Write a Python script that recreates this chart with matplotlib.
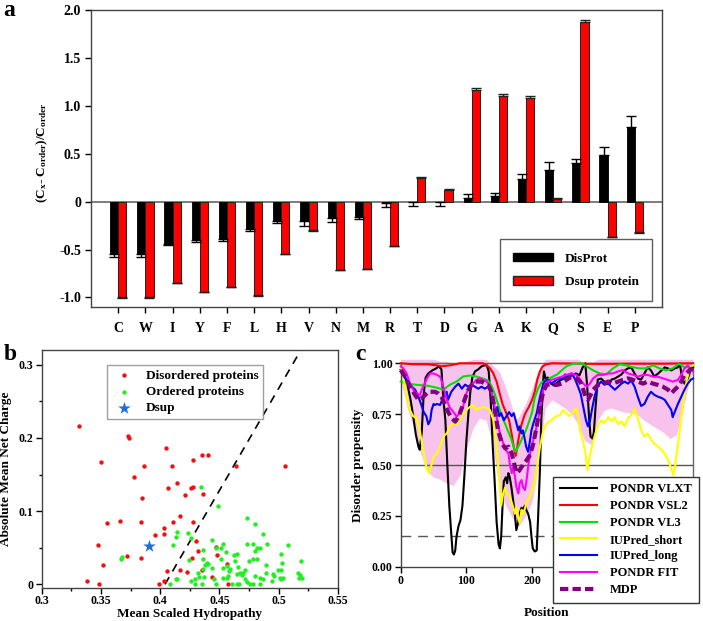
import numpy as np
import matplotlib
matplotlib.use("Agg")
import matplotlib.pyplot as plt
from matplotlib.patches import Patch

plt.rcParams["font.family"] = ["Liberation Serif", "DejaVu Serif"]
plt.rcParams["font.weight"] = "bold"
plt.rcParams["mathtext.fontset"] = "custom"
plt.rcParams["mathtext.rm"] = "Liberation Serif:bold"
plt.rcParams["mathtext.it"] = "Liberation Serif:bold"
plt.rcParams["mathtext.default"] = "rm"

# -----------------------------
# Panel a data
# -----------------------------
amino_acids = ["C", "W", "I", "Y", "F", "L", "H", "V", "N", "M",
               "R", "T", "D", "G", "A", "K", "Q", "S", "E", "P"]
disprot_vals = [-0.55, -0.545, -0.44, -0.40, -0.39, -0.29, -0.20, -0.20, -0.17, -0.16,
                -0.017, -0.008, -0.004, 0.035, 0.055, 0.235, 0.335, 0.40, 0.49, 0.775]
disprot_err = [0.03, 0.03, 0.01, 0.02, 0.02, 0.02, 0.02, 0.05, 0.04, 0.02,
               0.04, 0.035, 0.04, 0.045, 0.03, 0.055, 0.075, 0.05, 0.075, 0.115]
dsup_vals = [-1.0, -1.0, -0.845, -0.94, -0.89, -0.975, -0.545, -0.30, -0.71, -0.70,
             -0.46, 0.245, 0.125, 1.165, 1.105, 1.085, 0.025, 1.875, -0.365, -0.32]
dsup_err = [0.005, 0.005, 0.005, 0.005, 0.005, 0.005, 0.005, 0.005, 0.005, 0.005,
            0.005, 0.01, 0.008, 0.02, 0.015, 0.02, 0.01, 0.025, 0.005, 0.005]

# -----------------------------
# Panel b data
# -----------------------------
dis_h = [0.3318, 0.350, 0.3731, 0.374, 0.3863, 0.3776, 0.3843, 0.3661, 0.3548, 0.384,
         0.3475, 0.3717, 0.384, 0.352, 0.338, 0.3487, 0.405, 0.410, 0.428, 0.435,
         0.440, 0.464, 0.505, 0.4144, 0.4065, 0.4256, 0.4279, 0.4211, 0.4357, 0.4166,
         0.411, 0.4279, 0.4034, 0.4034, 0.3953, 0.4301, 0.4265, 0.4321, 0.4475, 0.447,
         0.456, 0.4349, 0.4166, 0.4222, 0.406, 0.4433, 0.4034, 0.3992, 0.4574]
dis_r = [0.216, 0.167, 0.203, 0.200, 0.161, 0.147, 0.118, 0.087, 0.084, 0.085,
         0.054, 0.039, 0.0355, 0.027, 0.005, 0.0, 0.186, 0.162, 0.170, 0.177,
         0.176, 0.161, 0.161, 0.1387, 0.131, 0.1314, 0.1328, 0.122, 0.1228, 0.0932,
         0.0855, 0.0855, 0.0769, 0.0682, 0.0669, 0.0587, 0.0364, 0.045, 0.0396, 0.0514,
         0.0273, 0.0196, 0.0196, 0.0173, 0.0187, 0.0105, 0.0046, 0.0, 0.0]

ord_h = [0.4343, 0.4484, 0.4734, 0.4799, 0.4863, 0.4141, 0.4231, 0.413, 0.411, 0.4256,
         0.4439, 0.4532, 0.447, 0.4512, 0.4734, 0.4779, 0.4905, 0.508, 0.4818, 0.4841,
         0.4799, 0.4363, 0.4554, 0.4624, 0.4644, 0.4751, 0.4779, 0.4813, 0.5015, 0.4245,
         0.4357, 0.4391, 0.4405, 0.4377, 0.4512, 0.4630, 0.4891, 0.5029, 0.5189, 0.4363,
         0.4433, 0.4526, 0.4565, 0.4593, 0.466, 0.4717, 0.4672, 0.4644, 0.4686, 0.4582,
         0.4315, 0.4369, 0.4329, 0.4293, 0.4256, 0.4138, 0.4085, 0.4293, 0.4355, 0.4456,
         0.447, 0.4526, 0.456, 0.4574, 0.4602, 0.4644, 0.4664, 0.4714, 0.4734, 0.4757,
         0.4784, 0.4799, 0.4841, 0.4863, 0.4846, 0.4939, 0.4953, 0.4959, 0.4995, 0.5018,
         0.5009, 0.5037, 0.5023, 0.5164, 0.5178, 0.5172, 0.52, 0.4889, 0.47, 0.3669,
         0.368, 0.413]
ord_r = [0.1328, 0.1069, 0.0901, 0.0828, 0.0691, 0.0714, 0.0705, 0.0646, 0.0537, 0.0628,
         0.0605, 0.0555, 0.0500, 0.0491, 0.0546, 0.0546, 0.0546, 0.0532, 0.0491, 0.0491,
         0.0455, 0.0464, 0.0441, 0.0396, 0.0410, 0.0318, 0.0350, 0.0350, 0.0419, 0.0332,
         0.0350, 0.0296, 0.0282, 0.0260, 0.0350, 0.0319, 0.0260, 0.0287, 0.0314, 0.0205,
         0.0228, 0.0228, 0.0250, 0.0205, 0.0241, 0.0196, 0.0159, 0.0137, 0.0123, 0.0182,
         0.0159, 0.0105, 0.0105, 0.0068, 0.0041, 0.0068, 0.0, 0.0, 0.0, 0.0068,
         0.0, 0.0087, 0.0091, 0.0114, 0.0, 0.0, 0.0, 0.0078, 0.0032, 0.0,
         0.0, 0.0114, 0.0091, 0.0068, 0.0, 0.0046, 0.0137, 0.0114, 0.0196, 0.0196,
         0.0091, 0.0091, 0.0068, 0.0159, 0.0123, 0.0091, 0.0091, 0.0159, 0.0159, 0.034,
         0.0377, 0.007]

dsup_h = [0.3907]
dsup_r = [0.052]

boundary_h = [0.404, 0.5205]
boundary_r = [0.0, 0.325]

# -----------------------------
# Panel c data
# -----------------------------
vlxt_pos = [0, 5, 10, 15, 19, 23, 27, 29, 32, 35, 38, 42, 48, 54, 58, 62, 65, 68, 71, 74,
            77, 79, 81, 83, 85, 88, 91, 94, 97, 100, 103, 106, 109, 113, 118, 123, 128, 131, 134, 137,
            140, 143, 146, 149, 151, 153, 155, 157, 160, 162, 164, 166, 169, 171, 174, 176, 179, 181, 184, 186,
            189, 191, 194, 197, 199, 201, 204, 207, 209, 212, 214, 217, 218, 221, 224, 229, 234, 240, 245, 250,
            255, 262, 267, 272, 277, 281, 284, 287, 289, 292, 294, 297, 300, 305, 310, 316, 321, 326, 331, 336,
            341, 346, 351, 356, 361, 366, 371, 376, 381, 386, 392, 397, 402, 407, 412, 417, 422, 425, 428, 432,
            437, 442, 445]
vlxt_val = [0.97, 0.95, 0.90, 0.82, 0.74, 0.65, 0.59, 0.575, 0.66, 0.85, 0.93, 0.95, 0.965, 0.975, 0.985, 0.97, 0.82, 0.72, 0.50, 0.30,
            0.16, 0.07, 0.06, 0.08, 0.15, 0.20, 0.23, 0.30, 0.45, 0.62, 0.75, 0.86, 0.93, 0.96, 0.97, 0.985, 0.99, 0.99, 0.96, 0.82,
            0.60, 0.42, 0.22, 0.11, 0.09, 0.15, 0.30, 0.42, 0.44, 0.41, 0.46, 0.44, 0.38, 0.33, 0.25, 0.18, 0.22, 0.26, 0.29, 0.28,
            0.30, 0.28, 0.26, 0.22, 0.15, 0.09, 0.075, 0.08, 0.23, 0.48, 0.72, 0.92, 0.96, 0.92, 0.93, 0.90, 0.89, 0.91, 0.92, 0.93,
            0.935, 0.945, 0.95, 0.94, 0.98, 1.0, 0.88, 0.72, 0.64, 0.63, 0.66, 0.80, 0.92, 0.925, 0.91, 0.90, 0.92, 0.925, 0.935, 0.945,
            0.965, 0.975, 0.98, 0.95, 0.925, 0.92, 0.95, 0.98, 0.965, 0.935, 0.95, 0.965, 0.98, 0.975, 0.965, 0.975, 0.98, 1.0, 0.93, 0.90,
            0.925, 0.975, 0.98]

vsl2_pos = [0, 20, 40, 55, 62, 75, 90, 125, 131, 136, 141, 146, 150, 155, 160, 165, 169, 172, 175, 177,
            180, 184, 189, 195, 200, 204, 208, 212, 216, 222, 230, 300, 350, 400, 445]
vsl2_val = [1.0, 0.995, 0.995, 0.99, 0.985, 0.99, 1.0, 1.0, 0.99, 0.975, 0.95, 0.91, 0.86, 0.80, 0.76, 0.72, 0.65, 0.59, 0.545, 0.58,
            0.64, 0.70, 0.75, 0.785, 0.82, 0.86, 0.92, 0.96, 0.985, 0.995, 1.0, 0.997, 0.998, 0.998, 1.0]

vl3_pos = [0, 10, 22, 40, 55, 65, 75, 85, 95, 105, 115, 125, 133, 138, 143, 148, 153, 158, 163, 168,
           172, 175, 178, 182, 186, 190, 195, 200, 204, 209, 214, 222, 230, 238, 245, 252, 262, 275, 283, 293,
           303, 313, 323, 333, 343, 354, 364, 374, 384, 394, 404, 414, 424, 432, 440, 445]
vl3_val = [0.91, 0.90, 0.895, 0.89, 0.88, 0.87, 0.895, 0.91, 0.935, 0.94, 0.935, 0.925, 0.915, 0.89, 0.85, 0.80, 0.75, 0.71, 0.67, 0.63,
           0.59, 0.565, 0.585, 0.61, 0.64, 0.665, 0.71, 0.76, 0.83, 0.875, 0.905, 0.918, 0.932, 0.945, 0.965, 0.985, 0.997, 1.0, 0.985, 0.965,
           0.95, 0.945, 0.975, 0.995, 0.99, 0.98, 0.975, 0.975, 0.99, 0.975, 0.965, 0.975, 0.998, 0.98, 0.98, 0.99]

ius_pos = [0, 4, 9, 14, 19, 24, 29, 34, 39, 43, 46, 50, 55, 60, 65, 70, 75, 80, 85, 90,
           95, 100, 105, 110, 115, 120, 126, 131, 136, 141, 146, 151, 153, 156, 159, 161, 166, 171, 174, 176,
           179, 181, 184, 186, 189, 191, 194, 197, 202, 207, 212, 217, 222, 229, 237, 242, 247, 252, 257, 262,
           267, 270, 273, 278, 282, 284, 287, 290, 295, 300, 305, 310, 316, 321, 326, 331, 336, 341, 346, 351,
           356, 361, 366, 371, 376, 381, 386, 392, 397, 402, 407, 412, 415, 418, 420, 424, 429, 435, 440, 445]
ius_val = [0.985, 0.93, 0.84, 0.77, 0.74, 0.73, 0.67, 0.575, 0.49, 0.46, 0.49, 0.54, 0.555, 0.59, 0.64, 0.655, 0.69, 0.705, 0.70, 0.72,
           0.75, 0.77, 0.785, 0.795, 0.77, 0.78, 0.785, 0.78, 0.77, 0.72, 0.59, 0.39, 0.30, 0.36, 0.39, 0.36, 0.345, 0.295, 0.26, 0.295,
           0.245, 0.215, 0.28, 0.26, 0.285, 0.31, 0.33, 0.345, 0.39, 0.475, 0.59, 0.67, 0.705, 0.72, 0.74, 0.745, 0.77, 0.755, 0.74, 0.755,
           0.78, 0.74, 0.67, 0.61, 0.54, 0.475, 0.525, 0.575, 0.64, 0.69, 0.72, 0.705, 0.735, 0.715, 0.735, 0.70, 0.715, 0.69, 0.73, 0.745,
           0.775, 0.73, 0.67, 0.64, 0.655, 0.625, 0.605, 0.59, 0.575, 0.555, 0.525, 0.48, 0.45, 0.50, 0.555, 0.65, 0.79, 0.91, 0.98, 0.99]

iul_pos = [0, 7, 12, 17, 22, 27, 32, 35, 39, 42, 45, 47, 50, 52, 55, 60, 65, 70, 72, 77,
           83, 88, 93, 98, 103, 108, 113, 118, 123, 128, 133, 137, 141, 143, 147, 150, 153, 157, 161, 165,
           169, 172, 175, 179, 181, 184, 186, 189, 191, 194, 197, 199, 202, 207, 212, 216, 219, 224, 229, 234,
           240, 245, 250, 255, 260, 265, 270, 274, 278, 282, 285, 288, 291, 295, 300, 305, 310, 316, 321, 326,
           331, 336, 341, 346, 351, 356, 361, 366, 371, 376, 381, 386, 392, 397, 402, 407, 412, 414, 417, 422,
           427, 432, 437, 442, 445]
iul_val = [0.96, 0.925, 0.91, 0.885, 0.87, 0.835, 0.79, 0.76, 0.74, 0.70, 0.72, 0.77, 0.80, 0.795, 0.80, 0.795, 0.835, 0.86, 0.82, 0.86,
           0.885, 0.90, 0.875, 0.895, 0.885, 0.895, 0.885, 0.875, 0.885, 0.875, 0.885, 0.87, 0.82, 0.755, 0.785, 0.74, 0.755, 0.72, 0.74, 0.76,
           0.74, 0.755, 0.72, 0.67, 0.69, 0.655, 0.67, 0.625, 0.59, 0.565, 0.625, 0.67, 0.705, 0.755, 0.835, 0.885, 0.91, 0.92, 0.90, 0.91,
           0.925, 0.92, 0.945, 0.935, 0.95, 0.925, 0.885, 0.85, 0.785, 0.72, 0.69, 0.715, 0.77, 0.835, 0.89, 0.91, 0.895, 0.90, 0.885, 0.87,
           0.885, 0.90, 0.91, 0.90, 0.915, 0.885, 0.835, 0.79, 0.80, 0.835, 0.86, 0.845, 0.835, 0.83, 0.82, 0.795, 0.77, 0.735, 0.76, 0.80,
           0.835, 0.87, 0.90, 0.92, 0.925]

fit_pos = [0, 4, 9, 14, 19, 24, 29, 34, 40, 45, 50, 55, 60, 65, 70, 75, 80, 85, 90, 95,
           100, 105, 110, 115, 120, 126, 131, 136, 141, 146, 151, 156, 160, 164, 166, 169, 171, 174, 176, 179,
           181, 184, 186, 189, 191, 194, 197, 199, 202, 207, 212, 216, 219, 224, 229, 237, 245, 252, 260, 267,
           272, 278, 283, 288, 293, 300, 308, 316, 323, 331, 338, 346, 354, 361, 369, 376, 384, 392, 399, 407,
           414, 422, 427, 432, 437, 442, 445]
fit_val = [0.985, 0.975, 0.95, 0.90, 0.87, 0.852, 0.844, 0.885, 0.926, 0.95, 0.95, 0.943, 0.934, 0.885, 0.82, 0.78, 0.762, 0.738, 0.754, 0.787,
           0.852, 0.885, 0.90, 0.918, 0.926, 0.918, 0.91, 0.885, 0.82, 0.738, 0.656, 0.607, 0.574, 0.557, 0.508, 0.46, 0.49, 0.443, 0.393, 0.36,
           0.41, 0.426, 0.393, 0.377, 0.41, 0.49, 0.557, 0.59, 0.623, 0.69, 0.77, 0.852, 0.893, 0.91, 0.918, 0.926, 0.934, 0.943, 0.95, 0.943,
           0.926, 0.90, 0.885, 0.90, 0.926, 0.943, 0.943, 0.95, 0.95, 0.96, 0.967, 0.95, 0.943, 0.934, 0.943, 0.943, 0.934, 0.934, 0.926, 0.918,
           0.91, 0.918, 0.943, 0.975, 0.99, 0.967, 0.96]

mdp_pos = [0, 7, 14, 22, 27, 32, 37, 42, 47, 52, 57, 62, 67, 72, 78, 83, 88, 93, 98, 103,
           108, 113, 118, 123, 128, 133, 138, 143, 148, 154, 159, 164, 169, 174, 177, 181, 186, 192, 197, 202,
           207, 212, 217, 222, 230, 237, 245, 252, 260, 267, 273, 278, 282, 285, 289, 293, 300, 308, 316, 323,
           331, 338, 346, 354, 361, 369, 376, 384, 392, 399, 407, 412, 417, 422, 427, 432, 440, 445]
mdp_val = [0.967, 0.934, 0.885, 0.844, 0.82, 0.828, 0.844, 0.86, 0.86, 0.86, 0.852, 0.836, 0.80, 0.762, 0.73, 0.713, 0.738, 0.78, 0.828, 0.87,
           0.893, 0.91, 0.91, 0.91, 0.90, 0.893, 0.86, 0.78, 0.672, 0.607, 0.582, 0.59, 0.557, 0.49, 0.46, 0.475, 0.50, 0.525, 0.55, 0.607,
           0.69, 0.787, 0.86, 0.893, 0.90, 0.893, 0.90, 0.918, 0.934, 0.926, 0.91, 0.87, 0.828, 0.82, 0.844, 0.87, 0.893, 0.90, 0.91, 0.90,
           0.91, 0.918, 0.926, 0.918, 0.91, 0.90, 0.91, 0.90, 0.893, 0.885, 0.87, 0.852, 0.87, 0.885, 0.91, 0.943, 0.967, 0.975]

band_pos = [0, 5, 10, 20, 30, 40, 50, 60, 70, 80, 90, 100, 110, 120, 130, 140, 150, 160, 170, 175,
            180, 190, 200, 210, 220, 230, 240, 250, 260, 270, 280, 290, 300, 310, 320, 330, 340, 350, 360, 370,
            380, 390, 400, 410, 420, 430, 440, 445]
band_hi = [1.02, 1.02, 1.02, 1.02, 1.02, 1.02, 1.02, 1.01, 1.01, 1.0, 1.0, 1.01, 1.02, 1.02, 1.02, 0.99, 0.96, 0.88, 0.78, 0.72,
           0.74, 0.80, 0.88, 0.97, 1.02, 1.02, 1.02, 1.02, 1.02, 1.02, 1.0, 1.0, 1.02, 1.02, 1.02, 1.02, 1.02, 1.02, 1.02, 1.02,
           1.02, 1.02, 1.02, 1.02, 1.02, 1.02, 1.02, 1.02]
band_lo = [0.92, 0.85, 0.78, 0.68, 0.56, 0.47, 0.44, 0.43, 0.41, 0.40, 0.45, 0.58, 0.68, 0.73, 0.72, 0.60, 0.38, 0.30, 0.24, 0.22,
           0.20, 0.25, 0.32, 0.50, 0.78, 0.82, 0.80, 0.78, 0.75, 0.70, 0.62, 0.60, 0.72, 0.77, 0.78, 0.77, 0.76, 0.755, 0.75, 0.72,
           0.70, 0.68, 0.66, 0.63, 0.65, 0.78, 0.92, 0.95]

# -----------------------------
# Figure
# -----------------------------
fig = plt.figure(figsize=(7.03, 6.21), dpi=100)
frame_col = "#444444"

# ---- panel a ----
ax_a = fig.add_axes([0.1294, 0.5056, 0.8123, 0.4783])
x = np.arange(len(amino_acids))
bw = 0.3
dp_v = np.array(disprot_vals)
dp_e = np.array(disprot_err)
ds_v = np.array(dsup_vals)
ds_e = np.array(dsup_err)
dp_yerr = [np.where(dp_v < 0, dp_e, 0), np.where(dp_v >= 0, dp_e, 0)]
ds_yerr = [np.where(ds_v < 0, ds_e, 0), np.where(ds_v >= 0, ds_e, 0)]

ax_a.bar(x - bw / 2, dp_v, bw, color="black", edgecolor="black", linewidth=0.6,
         yerr=dp_yerr, error_kw=dict(ecolor="black", elinewidth=1, capsize=3.5, capthick=1), zorder=3)
ax_a.bar(x + bw / 2, ds_v, bw, color="#ff0000", edgecolor="#222222", linewidth=0.7,
         yerr=ds_yerr, error_kw=dict(ecolor="#222222", elinewidth=1, capsize=3.5, capthick=1), zorder=3)
ax_a.axhline(0, color="#666666", linewidth=1.2, zorder=2)

ax_a.set_xlim(-1, 20)
ax_a.set_ylim(-1.1, 2.0)
ax_a.set_xticks(x)
ax_a.set_xticklabels(amino_acids)
ax_a.set_yticks([-1.0, -0.5, 0, 0.5, 1.0, 1.5, 2.0])
ax_a.set_yticklabels(["-1.0", "-0.5", "0", "0.5", "1.0", "1.5", "2.0"])
ax_a.tick_params(direction="out", length=4, width=1, colors="black", labelsize=10, pad=7)
ax_a.tick_params(axis="y", pad=3)
for sp in ax_a.spines.values():
    sp.set_color(frame_col)
    sp.set_linewidth(1)
ax_a.set_ylabel(r"(C$_{x}$- C$_{order}$)/C$_{order}$", fontsize=9.5, fontweight="bold")
ax_a.yaxis.set_label_coords(-0.072, 0.52)

leg_a = ax_a.legend(
    handles=[Patch(facecolor="black", edgecolor="black", label="DisProt"),
             Patch(facecolor="#ff0000", edgecolor="#222222", label="Dsup protein")],
    loc="lower right", bbox_to_anchor=(0.9825, 0.02), fontsize=9.5, frameon=True,
    fancybox=False, edgecolor="#333333", handlelength=3.0, handleheight=0.65,
    borderpad=1.0, labelspacing=0.85, handletextpad=0.9, borderaxespad=0)
leg_a.get_frame().set_linewidth(1)
for t in leg_a.get_texts():
    t.set_fontweight("bold")

# ---- panel b ----
ax_b = fig.add_axes([0.0593, 0.0531, 0.4215, 0.3833])
ax_b.plot(boundary_h, boundary_r, color="black", linestyle=(0, (5, 4)), linewidth=1.2, zorder=2)
ax_b.scatter(dis_h, dis_r, s=10, color="#ee1111", zorder=3, label="Disordered proteins", linewidths=0)
ax_b.scatter(ord_h, ord_r, s=10, color="#22ee22", zorder=3, label="Ordered proteins", linewidths=0)
ax_b.scatter(dsup_h, dsup_r, s=90, marker="*", color="#1e6fd9", zorder=4, label="Dsup", linewidths=0)
ax_b.set_xlim(0.3, 0.55)
ax_b.set_ylim(-0.005, 0.32)
ax_b.set_xticks([0.3, 0.35, 0.4, 0.45, 0.5, 0.55])
ax_b.set_xticklabels(["0.3", "0.35", "0.4", "0.45", "0.5", "0.55"])
ax_b.set_xticks([0.325, 0.375, 0.425, 0.475, 0.525], minor=True)
ax_b.set_yticks([0, 0.1, 0.2, 0.3])
ax_b.set_yticklabels(["0", "0.1", "0.2", "0.3"])
ax_b.set_yticks([0.05, 0.15, 0.25], minor=True)
ax_b.tick_params(which="major", direction="out", length=4, width=1, labelsize=8.5, pad=2)
ax_b.tick_params(axis="x", which="major", pad=1)
ax_b.tick_params(which="minor", direction="out", length=2.5, width=1)
for sp in ax_b.spines.values():
    sp.set_color(frame_col)
    sp.set_linewidth(1)
ax_b.set_xlabel("Mean Scaled Hydropathy", fontsize=9.5, fontweight="bold")
ax_b.xaxis.set_label_coords(0.5, -0.082)
ax_b.set_ylabel("Absolute Mean Net Charge", fontsize=9.5, fontweight="bold")
ax_b.yaxis.set_label_coords(-0.1, 0.5)
leg_b = ax_b.legend(loc="upper left", bbox_to_anchor=(0.219, 0.937), fontsize=9.5,
                    frameon=True, fancybox=False, edgecolor="#888888", borderaxespad=0,
                    handletextpad=0.6, labelspacing=0.3, borderpad=0.35, markerscale=1.0)
leg_b.get_frame().set_linewidth(1)
for t in leg_b.get_texts():
    t.set_fontweight("bold")

# ---- panel c ----
ax_c = fig.add_axes([0.570, 0.0874, 0.4158, 0.3276])
ax_c.fill_between(band_pos, band_lo, band_hi, color="#f7c3ec", linewidth=0, zorder=1, clip_on=False)
ax_c.axhline(0.5, color="#555555", linewidth=1, zorder=1.5)
ax_c.axhline(0.15, color="#555555", linewidth=1, linestyle=(0, (7, 5)), zorder=1.5)
lw = 1.5
l1, = ax_c.plot(vlxt_pos, vlxt_val, color="black", linewidth=lw, label="PONDR VLXT", zorder=3, clip_on=False)
l2, = ax_c.plot(vsl2_pos, vsl2_val, color="#ff0000", linewidth=lw, label="PONDR VSL2", zorder=3, clip_on=False)
l3, = ax_c.plot(vl3_pos, vl3_val, color="#00e000", linewidth=lw, label="PONDR VL3", zorder=3, clip_on=False)
l4, = ax_c.plot(ius_pos, ius_val, color="#ffff00", linewidth=lw, label="IUPred_short", zorder=3, clip_on=False)
l5, = ax_c.plot(iul_pos, iul_val, color="#0000ff", linewidth=lw, label="IUPred_long", zorder=3, clip_on=False)
l6, = ax_c.plot(fit_pos, fit_val, color="#ff00ff", linewidth=lw, label="PONDR FIT", zorder=3, clip_on=False)
l7, = ax_c.plot(mdp_pos, mdp_val, color="#800080", linewidth=3, linestyle=(0, (2, 1)),
                label="MDP", zorder=4, clip_on=False)
ax_c.set_xlim(0, 445)
ax_c.set_ylim(0, 1.0)
ax_c.set_xticks([0, 100, 200, 300, 400])
ax_c.set_yticks([0, 0.25, 0.5, 0.75, 1.0])
ax_c.set_yticklabels(["0.00", "0.25", "0.50", "0.75", "1.00"])
ax_c.tick_params(direction="out", length=4, width=1, labelsize=8.5, pad=2)
for sp in ax_c.spines.values():
    sp.set_linewidth(1)
ax_c.spines["top"].set_color("#666666")
ax_c.spines["right"].set_color("#666666")
ax_c.spines["left"].set_color(frame_col)
ax_c.spines["bottom"].set_color(frame_col)
ax_c.set_xlabel("Position", fontsize=9.5, fontweight="bold")
ax_c.xaxis.set_label_coords(0.5, -0.198)
ax_c.set_ylabel("Disorder propensity", fontsize=9.5, fontweight="bold")
ax_c.yaxis.set_label_coords(-0.126, 0.5)
leg_c = ax_c.legend(handles=[l1, l2, l3, l4, l5, l6, l7], loc="upper left",
                    bbox_to_anchor=(0.521, 0.443), fontsize=9, frameon=True, fancybox=False,
                    edgecolor="#333333", framealpha=1, borderaxespad=0, handlelength=3.0,
                    labelspacing=0.38, borderpad=0.55, handletextpad=1.0)
leg_c.get_frame().set_linewidth(1)
leg_c.set_zorder(10)
for t in leg_c.get_texts():
    t.set_fontweight("bold")

# ---- panel letters ----
fig.text(9 / 703, 1 - 11 / 621, "a", fontsize=17, fontweight="bold", ha="center", va="center")
fig.text(10 / 703, 1 - 355 / 621, "b", fontsize=17, fontweight="bold", ha="center", va="center")
fig.text(360 / 703, 1 - 355 / 621, "c", fontsize=17, fontweight="bold", ha="center", va="center")

fig.savefig("out.png", dpi=100)
